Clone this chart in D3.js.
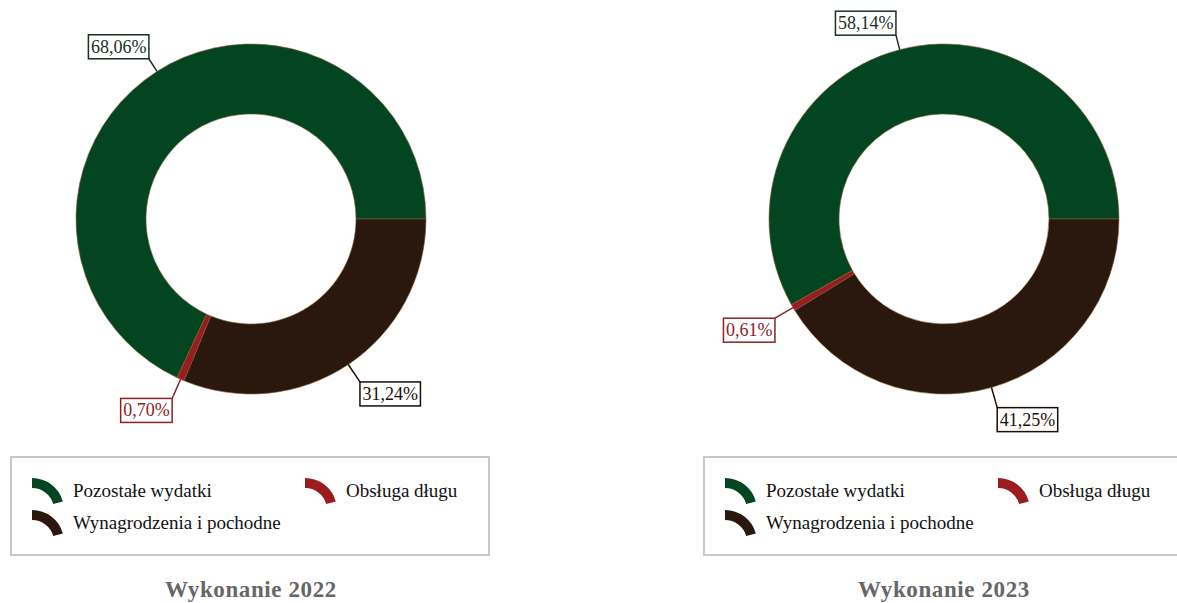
<!DOCTYPE html>
<html>
<head>
<meta charset="utf-8">
<script src="https://cdn.jsdelivr.net/npm/d3@7"></script>
<style>
  body { margin: 0; background: #fff; }
  text { font-family: "Liberation Serif", "DejaVu Serif", serif; }
</style>
</head>
<body>
<div id="chart"></div>
<script>
// categories in drawing order (counter-clockwise from 3 o'clock)
const categories = ["Pozostałe wydatki", "Obsługa długu", "Wynagrodzenia i pochodne"];
const colors = ["#034521", "#9b1c1f", "#2a170e"];
const labelText = ["#1b2f22", "#8b2325", "#1a0f08"];

const years = ["Wykonanie 2022", "Wykonanie 2023"];
const values2022 = [68.06, 0.70, 31.24];
const values2023 = [58.14, 0.61, 41.25];
const seriesValues = [values2022, values2023];

const width = 1177, height = 603;
const centers = [251, 944];
const cy = 219;
const outerR = 175, innerR = 105;

const svg = d3.select("#chart").append("svg")
    .attr("width", width)
    .attr("height", height);

const pie = d3.pie()
    .sort(null)
    .value(d => d)
    .startAngle(Math.PI / 2)
    .endAngle(Math.PI / 2 - 2 * Math.PI);

const arc = d3.arc().innerRadius(innerR).outerRadius(outerR);
const fmt = v => v.toFixed(2).replace(".", ",") + "%";

seriesValues.forEach((vals, ci) => {
    const g = svg.append("g")
        .attr("transform", "translate(" + centers[ci] + "," + cy + ")");

    const arcs = pie(vals);

    g.selectAll(".slice")
        .data(arcs)
        .enter().append("path")
        .attr("class", "slice")
        .attr("d", arc)
        .attr("fill", (d, i) => colors[i])
        .attr("stroke", "#7d6238")
        .attr("stroke-width", 0.6);

    // labels with leader lines
    arcs.forEach((d, i) => {
        const a = (d.startAngle + d.endAngle) / 2;
        const sx = Math.sin(a), sy = -Math.cos(a);
        const below = sy > 0;
        const lr = outerR + (below ? 21 : 15);
        const p0 = [sx * outerR, sy * outerR];
        const p1 = [sx * lr, sy * lr];

        g.append("line")
            .attr("x1", p0[0]).attr("y1", p0[1])
            .attr("x2", p1[0]).attr("y2", p1[1])
            .attr("stroke", labelText[i])
            .attr("stroke-width", 1.5);

        const lg = g.append("g");
        const rect = lg.append("rect");
        const t = lg.append("text")
            .attr("font-size", 18)
            .attr("fill", labelText[i])
            .text(fmt(vals[i]));
        const bb = t.node().getBBox();
        const bw = bb.width + 5, bh = 24;
        const bx = sx < 0 ? p1[0] - bw : p1[0];
        const by = below ? p1[1] : p1[1] - bh;
        rect.attr("x", bx).attr("y", by)
            .attr("width", bw).attr("height", bh)
            .attr("fill", "#fff")
            .attr("stroke", labelText[i])
            .attr("stroke-width", 1.5);
        t.attr("x", bx + 2.5).attr("y", by + 18);
    });

    // legend
    const lx = centers[ci] - 240, ly = 457;
    const leg = svg.append("g").attr("transform", "translate(" + lx + "," + ly + ")");
    leg.append("rect")
        .attr("width", 478).attr("height", 98)
        .attr("fill", "#fff")
        .attr("stroke", "#c8c8c8")
        .attr("stroke-width", 2);

    const iconArc = d3.arc().innerRadius(22).outerRadius(32)
        .startAngle(0).endAngle(1.3);
    const pos = [[21, 21], [294, 21], [21, 53]];
    categories.forEach((c, i) => {
        const it = leg.append("g")
            .attr("transform", "translate(" + pos[i][0] + "," + pos[i][1] + ")");
        it.append("path")
            .attr("d", iconArc)
            .attr("transform", "translate(0,32)")
            .attr("fill", colors[i]);
        it.append("text")
            .attr("x", 41).attr("y", 19)
            .attr("font-size", 19)
            .attr("fill", "#111")
            .text(c);
    });

    // title
    svg.append("text")
        .attr("x", centers[ci])
        .attr("y", 597)
        .attr("text-anchor", "middle")
        .attr("font-size", 23)
        .attr("font-weight", "bold")
        .attr("letter-spacing", 0.6)
        .attr("fill", "#666")
        .text(years[ci]);
});
</script>
</body>
</html>
